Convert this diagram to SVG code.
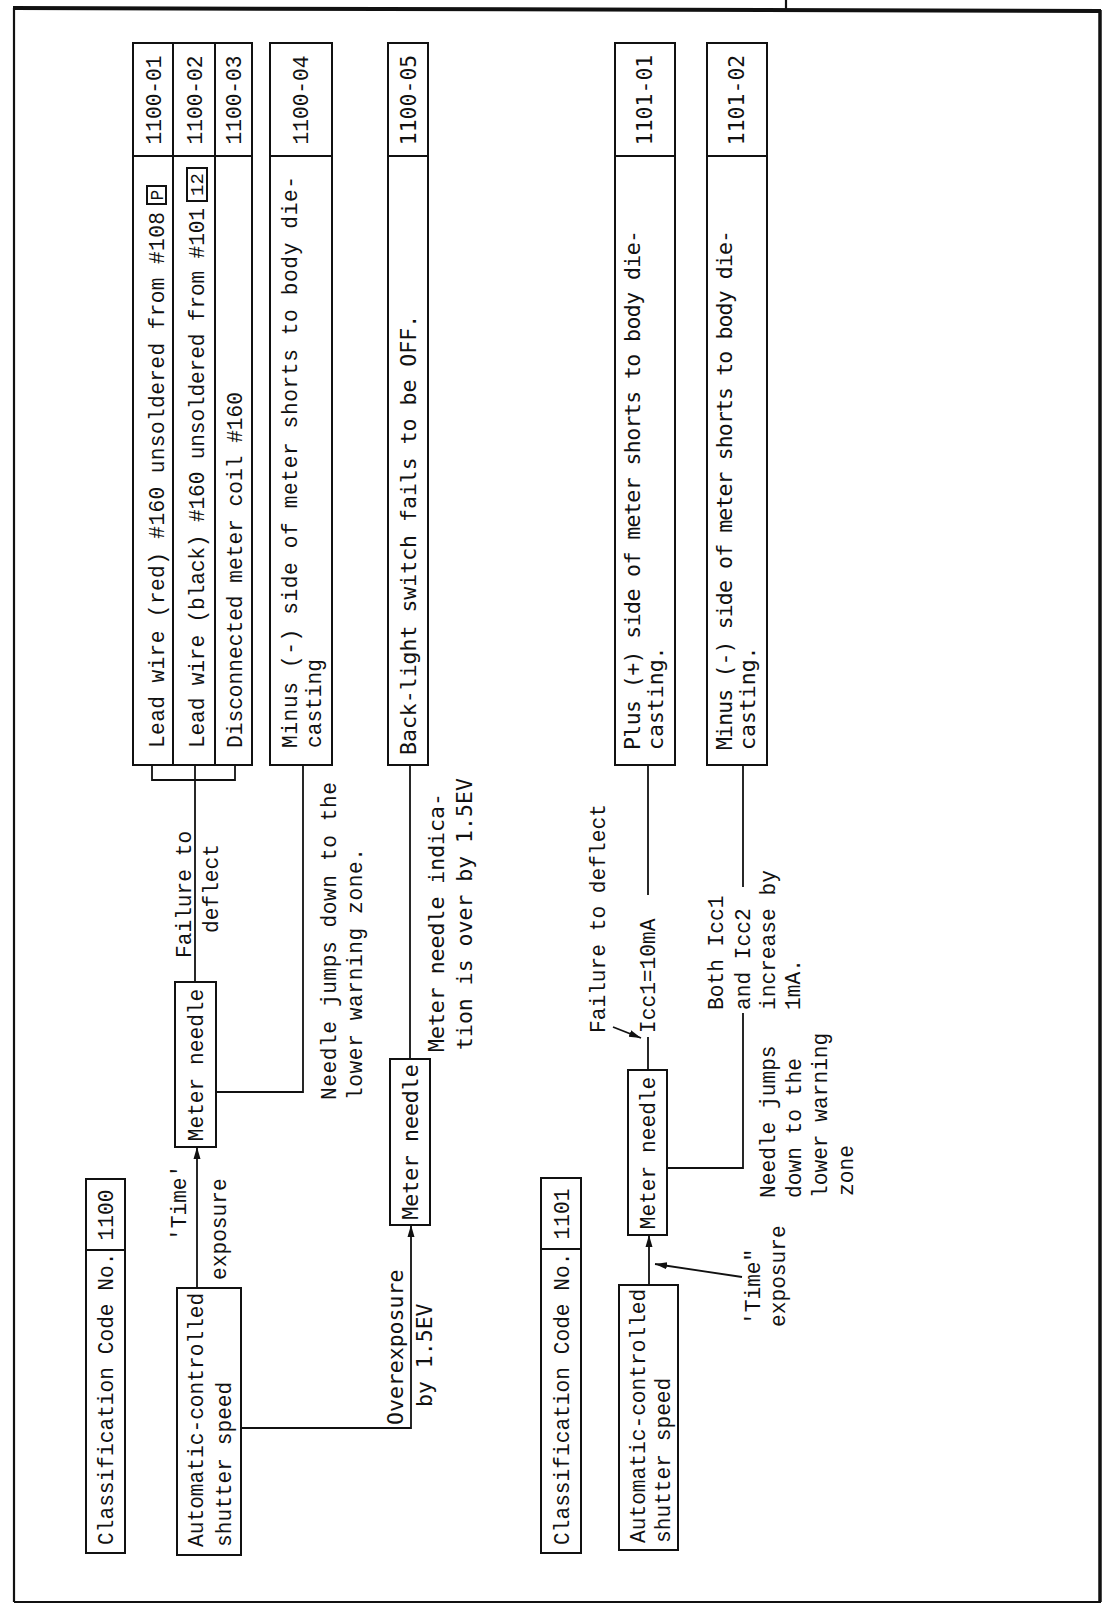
<svg xmlns="http://www.w3.org/2000/svg" width="1110" height="1605" viewBox="0 0 1110 1605">
<style>
.bx{fill:none;stroke:#111;stroke-width:2}
.ln{fill:none;stroke:#111;stroke-width:1.8}
.fr{fill:none;stroke:#111;stroke-width:2.2}
.t{font-family:"Liberation Mono","Courier New",monospace;font-size:21.2px;fill:#111}
.c{font-family:"DejaVu Sans Mono","Liberation Mono",monospace;font-size:21.5px;fill:#111}
.m{text-anchor:middle}
</style>
<defs>
<marker id="ah" markerUnits="userSpaceOnUse" markerWidth="13" markerHeight="9" refX="12" refY="4.5" orient="auto"><path d="M0,1 L12,4.5 L0,8 z" fill="#111"/></marker>
</defs>
<rect width="1110" height="1605" fill="#fff"/>
<g id="frame">
<line class="fr" x1="786" y1="0" x2="786" y2="10"/>
<line x1="13" y1="8" x2="1101" y2="11" stroke="#111" stroke-width="4"/>
<line class="fr" x1="14" y1="8" x2="14" y2="1602"/>
<line x1="1100" y1="10" x2="1100" y2="1602" stroke="#111" stroke-width="3.5"/>
<line class="fr" x1="14" y1="1602" x2="1101" y2="1602"/>
</g>
<g transform="translate(0,1605) rotate(-90)">
<g id="class-1100">
<rect class="bx" x="52" y="86" width="374" height="39"/>
<line class="bx" x1="355" y1="86" x2="355" y2="125"/>
<text class="t" x="60" y="113">Classification Code No.</text>
<text class="t m" x="390" y="113">1100</text>
</g>
<g id="auto-1100">
<rect class="bx" x="50" y="177" width="267" height="64"/>
<text class="t" x="58" y="203">Automatic-controlled</text>
<text class="t" x="58" y="231">shutter speed</text>
</g>
<g id="meter-1100-a">
<rect class="bx" x="458" y="175" width="165" height="41"/>
<text class="t m" x="540" y="203">Meter needle</text>
</g>
<g id="meter-1100-b">
<rect class="bx" x="380" y="390" width="166" height="40"/>
<text class="c m" x="463" y="418">Meter needle</text>
</g>
<g id="table-1100">
<rect class="bx" x="840" y="133" width="722" height="119"/>
<line class="bx" x1="840" y1="173" x2="1562" y2="173"/>
<line class="bx" x1="840" y1="215" x2="1562" y2="215"/>
<line class="bx" x1="1449" y1="133" x2="1449" y2="252"/>
<text class="t" x="857" y="164" textLength="536">Lead wire (red) #160 unsoldered from #108</text>
<rect class="bx" x="1401" y="147" width="18" height="19"/>
<text class="t m" x="1410" y="163" style="font-size:18px">P</text>
<text class="t" x="857" y="204" textLength="540">Lead wire (black) #160 unsoldered from #101</text>
<rect class="bx" x="1404" y="187" width="33" height="20"/>
<text class="t m" x="1420.5" y="203" style="font-size:19px">12</text>
<text class="t" x="857" y="242">Disconnected meter coil #160</text>
<text class="t m" x="1505" y="161">1100-01</text>
<text class="t m" x="1505" y="202">1100-02</text>
<text class="t m" x="1505" y="241">1100-03</text>
</g>
<g id="code-1100-04">
<rect class="bx" x="840" y="270" width="722" height="62"/>
<line class="bx" x1="1449" y1="270" x2="1449" y2="332"/>
<text class="t" x="857" y="297" textLength="572">Minus (-) side of meter shorts to body die-</text>
<text class="t" x="857" y="321">casting</text>
<text class="t m" x="1505" y="308">1100-04</text>
</g>
<g id="code-1100-05">
<rect class="bx" x="840" y="388" width="722" height="40"/>
<line class="bx" x1="1449" y1="388" x2="1449" y2="428"/>
<text class="c" x="850" y="416">Back-light switch fails to be OFF.</text>
<text class="c m" x="1505" y="416">1100-05</text>
</g>
<g id="class-1101">
<rect class="bx" x="52" y="541" width="375" height="40"/>
<line class="bx" x1="356" y1="541" x2="356" y2="581"/>
<text class="t" x="60" y="569">Classification Code No.</text>
<text class="t m" x="391" y="569">1101</text>
</g>
<g id="auto-1101">
<rect class="bx" x="55" y="619" width="265" height="59"/>
<text class="t" x="62" y="645">Automatic-controlled</text>
<text class="t" x="62" y="670">shutter speed</text>
</g>
<g id="meter-1101">
<rect class="bx" x="370" y="628" width="165" height="39"/>
<text class="t m" x="452" y="655">Meter needle</text>
</g>
<g id="code-1101-01">
<rect class="bx" x="840" y="615" width="722" height="60"/>
<line class="bx" x1="1449" y1="615" x2="1449" y2="675"/>
<text class="c" x="855" y="640" textLength="520">Plus (+) side of meter shorts to body die-</text>
<text class="c" x="855" y="663">casting.</text>
<text class="c m" x="1505" y="652">1101-01</text>
</g>
<g id="code-1101-02">
<rect class="bx" x="840" y="707" width="722" height="60"/>
<line class="bx" x1="1449" y1="707" x2="1449" y2="767"/>
<text class="c" x="855" y="732" textLength="520">Minus (-) side of meter shorts to body die-</text>
<text class="c" x="855" y="755">casting.</text>
<text class="c m" x="1505" y="744">1101-02</text>
</g>
<g id="connectors">
<line class="ln" x1="317" y1="197" x2="458" y2="197" marker-end="url(#ah)"/>
<line class="ln" x1="623" y1="195" x2="840" y2="195"/>
<polyline class="ln" points="840,152 825,152 825,235 840,235"/>
<polyline class="ln" points="840,303 513,303 513,216"/>
<polyline class="ln" points="177,241 177,411 380,411" marker-end="url(#ah)"/>
<line class="ln" x1="546" y1="410" x2="840" y2="410"/>
<line class="ln" x1="320" y1="649" x2="370" y2="649" marker-end="url(#ah)"/>
<line class="ln" x1="535" y1="648" x2="568" y2="648"/>
<line class="ln" x1="710" y1="648" x2="840" y2="648"/>
<polyline class="ln" points="437,667 437,743 592,743"/>
<line class="ln" x1="718" y1="743" x2="840" y2="743"/>
<line class="ln" x1="578" y1="613" x2="567" y2="641" marker-end="url(#ah)"/>
<line class="ln" x1="328" y1="742" x2="341" y2="655" marker-end="url(#ah)"/>
<text class="t" x="364" y="186">'Time'</text>
<text class="t" x="325" y="226">exposure</text>
<text class="t" x="647" y="191">Failure to</text>
<text class="t" x="672" y="218">deflect</text>
<text class="t" x="505" y="336" textLength="318">Needle jumps down to the</text>
<text class="t" x="505" y="362" textLength="252">lower warning zone.</text>
<text class="c" x="180" y="403">Overexposure</text>
<text class="c" x="198" y="432">by 1.5EV</text>
<text class="c" x="553" y="444">Meter needle indica-</text>
<text class="c" x="555" y="472">tion is over by 1.5EV</text>
<text class="t" x="572" y="605">Failure to deflect</text>
<text class="t" x="572" y="655">Icc1=10mA</text>
<text class="t" x="595" y="723">Both Icc1</text>
<text class="t" x="595" y="750">and Icc2</text>
<text class="t" x="595" y="775">increase by</text>
<text class="t" x="595" y="800">1mA.</text>
<text class="t" x="407" y="775">Needle jumps</text>
<text class="t" x="407" y="801">down to the</text>
<text class="t" x="407" y="827">lower warning</text>
<text class="t" x="409" y="853">zone</text>
<text class="t" x="280" y="760">'Time"</text>
<text class="t" x="278" y="785">exposure</text>
</g>
</g>
</svg>
